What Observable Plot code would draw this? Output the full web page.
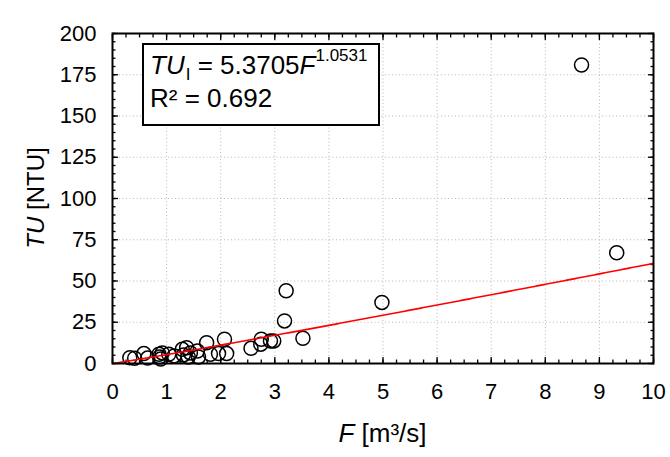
<!DOCTYPE html>
<html><head><meta charset="utf-8">
<script src="https://cdn.jsdelivr.net/npm/d3@7"></script>
<script src="https://cdn.jsdelivr.net/npm/@observablehq/plot@0.6"></script>
<style>
body{margin:0;background:#fff;}
#wrap{position:relative;width:670px;height:457px;font-family:"Liberation Sans",Arial,sans-serif;color:#000;}
#legend{position:absolute;left:142px;top:43px;width:238px;height:83px;box-sizing:border-box;border:2px solid #000;background:#fff;font-size:26px;line-height:33px;padding:4px 0 0 6px;white-space:nowrap;}
.sm{font-size:17px;line-height:1;position:relative;}
#xt{position:absolute;left:112px;width:541px;top:420px;text-align:center;font-size:26px;line-height:26px;white-space:nowrap;}
#yt{position:absolute;left:36px;top:198px;transform:translate(-50%,-50%) rotate(-90deg);font-size:24px;line-height:24px;white-space:nowrap;}
</style></head>
<body>
<div id="wrap"></div>
<script>
// Observed points: discharge F [m³/s] and turbidity TU [NTU]
const F  = [0.32,0.41,0.58,0.65,0.86,0.87,0.89,0.92,1.04,1.14,1.29,1.31,1.37,1.40,1.44,1.57,1.59,1.74,1.81,1.96,2.07,2.11,2.56,2.74,2.75,2.92,2.98,3.18,3.21,3.52,4.98,8.67,9.32];
const TU = [3.5,3.2,6.0,3.3,5.6,4.0,2.7,6.4,5.6,4.6,8.6,5.2,9.6,4.0,6.4,7.6,4.0,12.6,5.6,6.0,14.7,6.0,9.2,11.7,14.7,13.7,13.7,25.8,44.1,15.3,37.0,180.9,67.1];
// Fitted power law TU = a * F^b (from legend)
const fitA = 5.3705, fitB = 1.0531;
const xTicks = [0,1,2,3,4,5,6,7,8,9,10];
const yTicks = [0,25,50,75,100,125,150,175,200];
const xMinor = d3.range(0, 10.0001, 0.25);
const yMinor = d3.range(0, 200.0001, 5);

const points = F.map((f,i)=>({f, tu: TU[i]}));
const fitX = d3.range(0, 10.0001, 0.05);
const fit = fitX.map(f=>({f, tu: fitA*Math.pow(f, fitB)}));

const blank = () => "";
const tk = {stroke:"#000", strokeWidth:1.3, label:null, tickFormat: blank};
const plot = Plot.plot({
  width: 670, height: 457,
  marginLeft: 112, marginRight: 17, marginTop: 33, marginBottom: 94,
  style: {fontFamily: "'Liberation Sans', Arial, sans-serif", fontSize: "22px", color: "#000", background: "#fff", overflow:"visible"},
  x: {domain: [0,10]},
  y: {domain: [0,200]},
  marks: [
    Plot.gridX(xTicks.slice(1,-1), {stroke:"#b8b8b8", strokeOpacity:1, strokeDasharray:"1,2.5", strokeWidth:1}),
    Plot.gridY(yTicks.slice(1,-1), {stroke:"#b8b8b8", strokeOpacity:1, strokeDasharray:"1,2.5", strokeWidth:1}),
    Plot.axisX(xTicks, {anchor:"bottom", tickSize:0, tickPadding:20, label:null, fontSize:22}),
    Plot.axisY(yTicks, {anchor:"left", tickSize:0, tickPadding:16, label:null, fontSize:22}),
    Plot.axisX(xTicks, {...tk, anchor:"bottom", tickSize:6, dy:-6}),
    Plot.axisX(xMinor, {...tk, anchor:"bottom", tickSize:3.5, dy:-3.5}),
    Plot.axisX(xTicks, {...tk, anchor:"top", tickSize:6, dy:6}),
    Plot.axisX(xMinor, {...tk, anchor:"top", tickSize:3.5, dy:3.5}),
    Plot.axisY(yTicks, {...tk, anchor:"left", tickSize:6, dx:6}),
    Plot.axisY(yMinor, {...tk, anchor:"left", tickSize:3.5, dx:3.5}),
    Plot.axisY(yTicks, {...tk, anchor:"right", tickSize:6, dx:-6}),
    Plot.axisY(yMinor, {...tk, anchor:"right", tickSize:3.5, dx:-3.5}),
    Plot.dot(points, {x:"f", y:"tu", r:7, stroke:"#000", strokeWidth:1.5, fill:"none"}),
    Plot.line(fit, {x:"f", y:"tu", stroke:"#ff0000", strokeWidth:1.6}),
    Plot.frame({stroke:"#000", strokeWidth:2})
  ]
});
const wrap = document.getElementById("wrap");
wrap.appendChild(plot);
wrap.insertAdjacentHTML("beforeend",
  `<div id="legend"><div><i>TU</i><span class="sm" style="top:6px;margin-left:1px">I</span> = 5.3705<i>F</i><span class="sm" style="top:-13px">1.0531</span></div><div>R² = 0.692</div></div>
   <div id="xt"><i>F</i> [m³/s]</div>
   <div id="yt"><i>TU</i> [NTU]</div>`);
</script>
</body></html>
